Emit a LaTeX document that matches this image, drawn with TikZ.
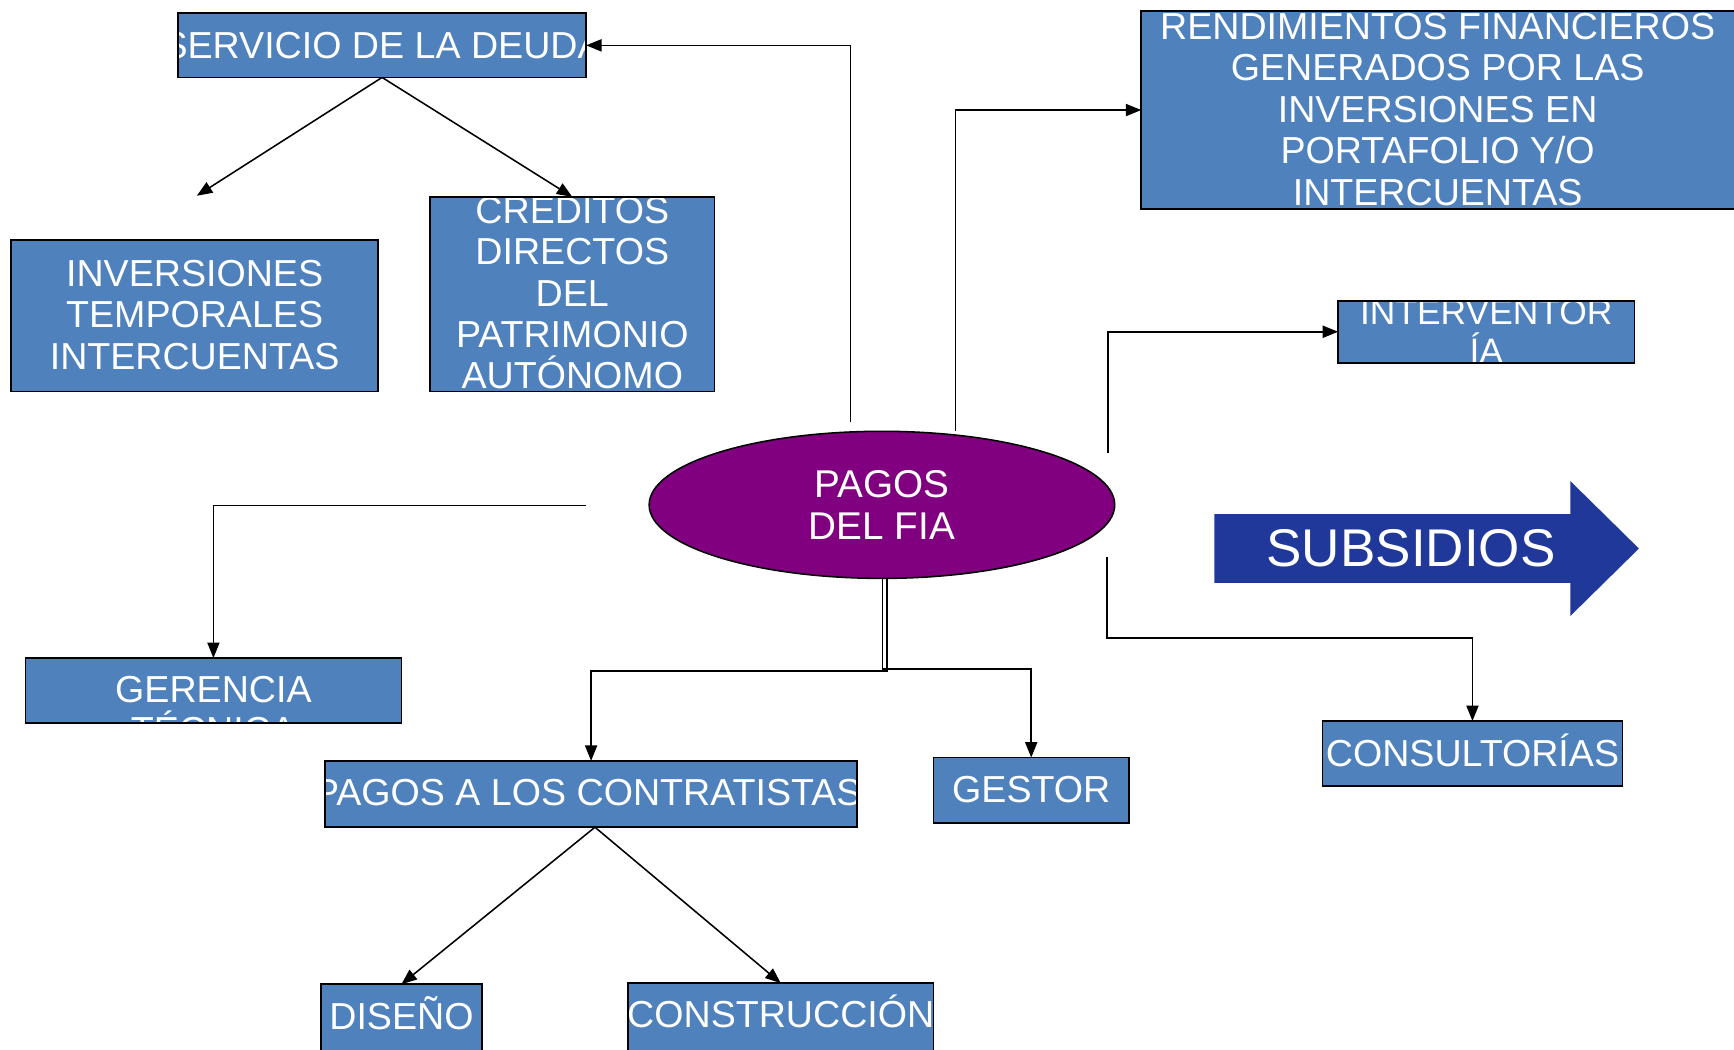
\documentclass[tikz,border=0pt]{standalone}
\usepackage{fontspec}
\setmainfont{Liberation Sans}
\usetikzlibrary{arrows.meta,shapes.geometric}
\definecolor{boxblue}{RGB}{79,129,189}
\definecolor{fiapurple}{RGB}{128,0,128}
\definecolor{subblue}{RGB}{31,56,153}
\begin{document}
\begin{tikzpicture}[x=0.5pt,y=-0.5pt,
  box/.style={fill=boxblue, inner sep=0pt, outer sep=0pt},
  boxline/.style={draw=black, line width=0.75pt},
  txt/.style={text=white, inner sep=0pt, align=center, font=\fontsize{17}{18.75}\selectfont},
  conn/.style={draw=black, line width=0.7pt, -{Triangle[length=7pt,width=5.5pt]}},
  plain/.style={draw=black, line width=0.7pt}]
\useasboundingbox (0,0) rectangle (1568,949);
% box fills
\node[box, minimum width=184.5pt, minimum height=29pt] (serv) at (345.5,41) {};
\node[box, minimum width=166pt, minimum height=68.5pt] (inv) at (176,285.5) {};
\node[box, minimum width=128.5pt, minimum height=88pt] (cred) at (517.5,266) {};
\node[box, minimum width=270pt, minimum height=89.5pt] (rend) at (1302,99.5) {};
\node[box, minimum width=134pt, minimum height=28pt] (interv) at (1344,300) {};
\node[box, minimum width=170pt, minimum height=29.5pt] (ger) at (193,624.5) {};
\node[box, minimum width=240.5pt, minimum height=30pt] (pagcon) at (534.5,718) {};
\node[box, minimum width=88.5pt, minimum height=29.5pt] (gestor) at (932.5,714.5) {};
\node[box, minimum width=135.5pt, minimum height=29.5pt] (consult) at (1331.5,681.5) {};
\node[box, minimum width=73pt, minimum height=31pt] (diseno) at (363,921) {};
\node[box, minimum width=138pt, minimum height=31.5pt] (constr) at (706,920.5) {};
% texts
\node[txt] (servt) at (346,41) {SERVICIO DE LA DEUDA};
\node[txt] (invt) at (176,284.5) {INVERSIONES\\TEMPORALES\\INTERCUENTAS};
\node[txt] (credt) at (517.5,265) {CR\smash{É}DITOS\\DIRECTOS\\DEL\\PATRIMONIO\\AUT\smash{Ó}NOMO};
\node[txt] (rendt) at (1300,99) {RENDIMIENTOS FINANCIEROS\\GENERADOS POR LAS\\INVERSIONES EN\\PORTAFOLIO Y/O\\INTERCUENTAS};
\node[txt, font=\fontsize{16}{17.5}\selectfont] (intervt) at (1344,300) {INTERVENTOR\\\smash{Í}A};
\node[txt] (gert) at (193,642) {GERENCIA\\T\smash{É}CNICA};
\node[txt] (pagcont) at (531.5,717) {PAGOS A LOS CONTRATISTAS};
\node[txt] (gestort) at (932.5,714) {GESTOR};
\node[txt] (consultt) at (1331.5,681) {CONSULTOR\smash{Í}AS};
\node[txt] (disenot) at (363,919) {DISE\smash{Ñ}O};
\node[txt] (constrt) at (706,917) {CONSTRUCCI\smash{Ó}N};
% borders
\foreach \n in {serv,inv,cred,rend,interv,ger,pagcon,gestor,consult,diseno,constr}
  \draw[boxline] (\n.south west) rectangle (\n.north east);
% central ellipse
\node[ellipse, draw=black, line width=0.7pt, fill=fiapurple, inner sep=0pt,
      minimum width=210.5pt, minimum height=66.5pt, txt,
      font=\fontsize{17.5}{19}\selectfont] (fia) at (797.5,456.5) {PAGOS\\DEL FIA};
% subsidios arrow
\fill[subblue] (1098,465) -- (1420,465) -- (1420,435) -- (1482,496) -- (1420,557) -- (1420,527) -- (1098,527) -- cycle;
\node[txt, font=\fontsize{24}{28}\selectfont] (subs) at (1276,496) {SUBSIDIOS};
% free ends
\coordinate (c1) at (769,382);
\coordinate (c2) at (178,177);
\coordinate (c3) at (864,390);
\coordinate (c4) at (1002,410);
\coordinate (c5) at (530,457);
\coordinate (c6) at (1001,504);
% connectors
\draw[conn] (c1) |- (serv.east);
\draw[conn] (serv.south) -- (c2);
\draw[conn] (serv.south) -- (cred.north);
\draw[conn] (c3) |- (rend.west);
\draw[conn] (c4) |- (interv.west);
\draw[conn] (c5) -| (ger.north);
\draw[conn] (c6) -- ++(0,73) -| (consult.north);
\draw[conn] ([xshift=2.25pt]fia.south) -- ++(0,83) -| (pagcon.north);
\draw[conn] ([xshift=0.25pt]fia.south) -- ++(0,81) -| (gestor.north);
\draw[conn] ([xshift=1.75pt]pagcon.south) -- (diseno.north);
\draw[conn] ([xshift=1.75pt]pagcon.south) -- (constr.north);
\end{tikzpicture}
\end{document}
